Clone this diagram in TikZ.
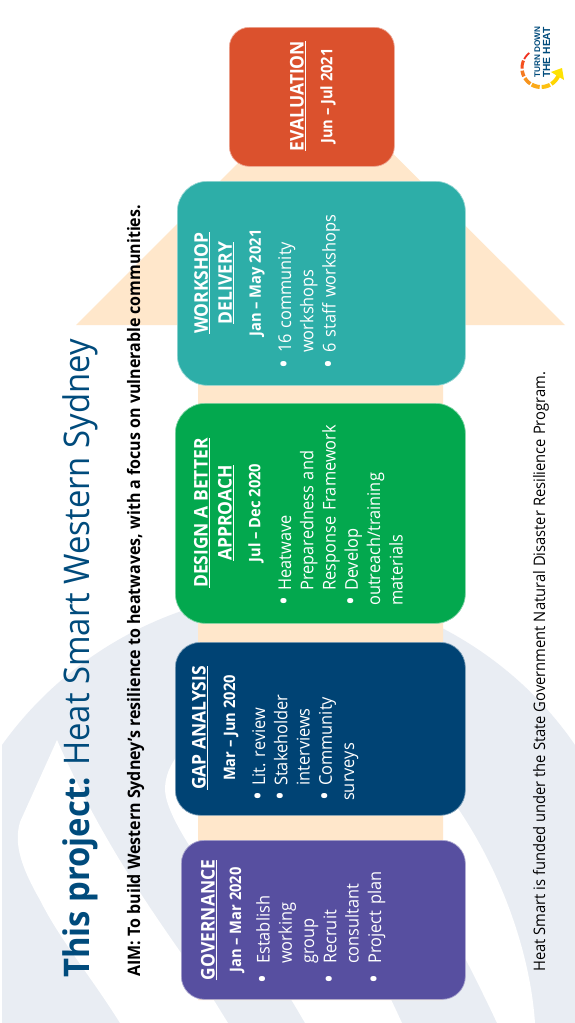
\documentclass[tikz,border=0pt]{standalone}
\usepackage{fontspec}
\setmainfont[FakeStretch=0.93]{Open Sans}
\newfontfamily\logofont{Liberation Sans}
\definecolor{bggray}{HTML}{E9EDF3}
\definecolor{peach}{HTML}{FFE7CB}
\definecolor{titleblue}{HTML}{004B7C}
\definecolor{cEval}{HTML}{DB512D}
\definecolor{cWork}{HTML}{2DAEA8}
\definecolor{cDesign}{HTML}{03A84E}
\definecolor{cGap}{HTML}{004374}
\definecolor{cGov}{HTML}{574FA0}
\newlength{\bi}
\newcommand{\bl}[1]{\par\noindent\hangindent=\bi\hangafter=1\makebox[\bi][l]{\raisebox{-0.1em}{\scalebox{1.45}{•}}}\strut #1\strut}
\tikzset{
  stage/.style={rectangle,anchor=north west,inner sep=0pt,line width=0.7pt},
  headtxt/.style={rotate=90,anchor=center,align=center,text=white,inner sep=0pt,
    font=\fontsize{18.8}{24}\selectfont\bfseries},
  datetxt/.style={rotate=90,anchor=center,inner sep=0pt,text=white,
    font=\fontsize{15.8}{17}\selectfont\bfseries},
  bodytxt/.style={rotate=90,anchor=north west,inner sep=0pt,text=white,text width=#1,
    font=\fontsize{17.6}{22.3}\selectfont\frenchspacing},
  bodytxt/.default=140pt,
  linetxt/.style={rotate=90,anchor=base west,inner sep=0pt}
}
\begin{document}
\begin{tikzpicture}[x=1pt,y=-1pt]
\useasboundingbox (0,0) rectangle (575,1023);
\fill[white] (0,0) rectangle (575,1023);
% background swoosh
\fill[bggray] (2,1023) -- (2,745) .. controls (70,650) and (180,592) .. (300,590)
  .. controls (400,592) and (510,650) .. (575,745) -- (575,1023) -- cycle;
\fill[white] (57,740) -- (20,822) .. controls (15,840) and (17,860) .. (40,900)
  .. controls (60,940) and (90,975) .. (120,1023) -- (228,1023) -- (215,1002)
  .. controls (170,935) and (110,860) .. (57,740) -- cycle;
\fill[white] (200,730) .. controls (175,755) and (165,770) .. (165,790)
  .. controls (167,830) and (240,910) .. (305,1023) -- (402,1023)
  .. controls (350,910) and (290,800) .. (200,730) -- cycle;
\fill[white] (440,790) -- (457,807) .. controls (500,870) and (530,950) .. (535,1023)
  -- (497,1023) .. controls (470,965) and (430,890) .. (400,840) -- cycle;
% big arrow
\fill[peach] (198,1000) -- (198,325) -- (76,325) -- (320,81) -- (565,325) -- (443,325) -- (443,1000) -- cycle;
% stage boxes
\node[stage,fill=cEval,draw=cEval!50!white,rounded corners=20pt,minimum width=165pt,minimum height=139pt] (eval) at (229,27) {};
\node[stage,fill=cWork,draw=cWork!50!white,rounded corners=30pt,minimum width=288pt,minimum height=204pt] (work) at (177,181) {};
\node[stage,fill=cDesign,draw=cDesign!50!white,rounded corners=30pt,minimum width=290pt,minimum height=220pt] (design) at (175,403) {};
\node[stage,fill=cGap,draw=cGap!50!white,rounded corners=25pt,minimum width=290pt,minimum height=173pt] (gap) at (175,642) {};
\node[stage,fill=cGov,draw=cGov!50!white,rounded corners=23pt,minimum width=284pt,minimum height=159pt] (gov) at (181,840) {};
% titles
\node[linetxt,text=titleblue,font=\fontsize{35.3}{40}\selectfont] (title) at (89,978) {\textbf{This project:} Heat Smart Western Sydney};
\node[linetxt,text=black,font=\fontsize{17.2}{22}\selectfont\bfseries] (aim) at (140,977) {AIM: To build Western Sydney’s resilience to heatwaves, with a focus on vulnerable communities.};
\node[linetxt,text=black,font=\fontsize{15.85}{20}\selectfont] (fund) at (545,972) {Heat Smart is funded under the State Government Natural Disaster Resilience Program.};
% evaluation
\node[headtxt] (evalh) at (298,96) {\underline{EVALUATION}};
\node[datetxt] (evald) at (328,96) {Jun – Jul 2021};
% workshop
\node[headtxt] (workh) at (214,283) {\underline{WORKSHOP}\\\underline{DELIVERY}};
\node[datetxt] (workd) at (257,283) {Jan – May 2021};
\node[bodytxt=180pt] (workb) at (268.5,369) {\setlength{\bi}{16pt}\bl{16 community\newline workshops}\bl{6 staff workshops}};
% design
\node[headtxt] (desh) at (214,513) {\underline{DESIGN A BETTER}\\\underline{APPROACH}};
\node[datetxt] (desd) at (256,513) {Jul – Dec 2020};
\node[bodytxt=200pt] (desb) at (268.5,606) {\setlength{\bi}{15pt}\bl{Heatwave\newline Preparedness and\newline Response Framework}\bl{Develop\newline outreach/training\newline materials}};
% gap
\node[headtxt] (gaph) at (200,728) {\underline{GAP ANALYSIS}};
\node[datetxt] (gapd) at (231,728) {Mar – Jun 2020};
\node[bodytxt=150pt] (gapb) at (242.5,801) {\setlength{\bi}{15pt}\bl{Lit. review}\bl{Stakeholder\newline interviews}\bl{Community\newline surveys}};
% governance
\node[headtxt] (govh) at (209,920) {\underline{GOVERNANCE}};
\node[datetxt] (govd) at (237,920) {Jan – Mar 2020};
\node[bodytxt=140pt] (govb) at (247,984) {\setlength{\bi}{20pt}\bl{Establish\newline working\newline group}\bl{Recruit\newline consultant}\bl{Project plan}};
% logo
\foreach \a/\b/\w/\c in {128/152/1.8/F0301E,157/182/3/F5501E,188/206/3.5/F47A20,212/236/3.5/F7941D,241/266/4/FBA919,272/298/4/FDC010,303/338/4/FFD500}{
  \definecolor{tmpc}{HTML}{\c}
  \draw[tmpc,line width=\w pt] plot[domain=\a:\b,samples=8,smooth] ({541+19*cos(\x)},{68-19*sin(\x)});
}
\fill[yellow!85!orange] (551,72) -- (562,68) -- (564,80) -- cycle;
\node[linetxt,text=titleblue,font=\logofont\fontsize{8.2}{9}\selectfont\bfseries] (logoa) at (540,78) {TURN DOWN};
\node[linetxt,text=titleblue,font=\logofont\fontsize{10.3}{11}\selectfont\bfseries] (logob) at (550,78) {THE HEAT};
\end{tikzpicture}
\end{document}
